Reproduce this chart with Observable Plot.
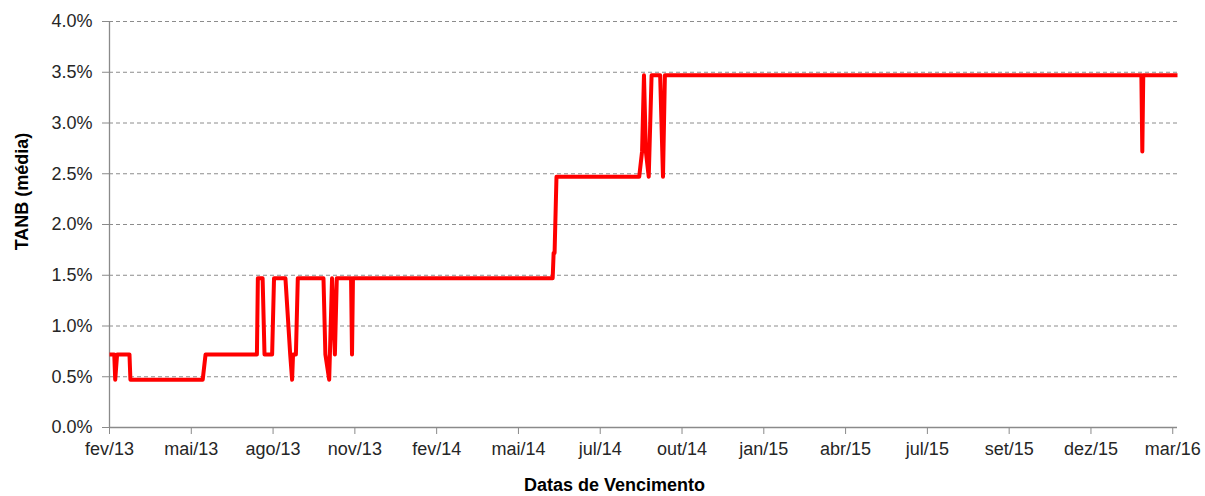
<!DOCTYPE html>
<html>
<head>
<meta charset="utf-8">
<script src="https://cdn.jsdelivr.net/npm/d3@7"></script>
<script src="https://cdn.jsdelivr.net/npm/@observablehq/plot@0.6"></script>
<style>
  html, body { margin: 0; padding: 0; background: #fff; }
</style>
</head>
<body>
<div id="chart"></div>
<script>
// Maturity dates (x) and average TANB in % (y)
const dates = [
  "2013-02-26","2013-03-03","2013-03-04","2013-03-06","2013-03-19","2013-03-20",
  "2013-06-04","2013-06-07","2013-07-31","2013-08-01","2013-08-06","2013-08-08",
  "2013-08-16","2013-08-18","2013-08-30","2013-09-04","2013-09-06","2013-09-07",
  "2013-09-10","2013-09-12","2013-10-09","2013-10-11","2013-10-15","2013-10-18",
  "2013-10-21","2013-10-23","2013-11-07","2013-11-08","2013-11-09",
  "2014-06-07","2014-06-08","2014-06-09","2014-06-11",
  "2014-09-06","2014-09-09","2014-09-11","2014-09-13","2014-09-16","2014-09-19",
  "2014-09-28","2014-10-01","2014-10-03",
  "2016-02-16","2016-02-17","2016-02-18","2016-03-25"
];
const tanb = [
  0.72,0.72,0.47,0.72,0.72,0.47,
  0.47,0.72,0.72,1.47,1.47,0.72,
  0.72,1.47,1.47,0.72,0.47,0.72,
  0.72,1.47,1.47,0.72,0.47,1.47,
  0.72,1.47,1.47,0.72,1.47,
  1.47,1.72,1.72,2.47,
  2.47,2.72,3.47,2.72,2.47,3.47,
  3.47,2.47,3.47,
  3.47,2.72,3.47,3.47
];

// Axis
const xDomain = ["2013-02-26", "2016-03-25"];
const xTickDates = [
  "2013-02-26","2013-05-23","2013-08-17","2013-11-11","2014-02-05","2014-05-02",
  "2014-07-27","2014-10-21","2015-01-15","2015-04-11","2015-07-06","2015-09-30",
  "2015-12-25","2016-03-20"
];
const xTickLabels = [
  "fev/13","mai/13","ago/13","nov/13","fev/14","mai/14","jul/14","out/14",
  "jan/15","abr/15","jul/15","set/15","dez/15","mar/16"
];
const yTicks = [0, 0.5, 1, 1.5, 2, 2.5, 3, 3.5, 4];
const yTitle = "TANB (média)";
const xTitle = "Datas de Vencimento";

const data = dates.map((d, i) => ({date: new Date(d), value: tanb[i]}));
const labelMap = new Map(xTickDates.map((d, i) => [+new Date(d), xTickLabels[i]]));

const axisColor = "#8a8a8a";
const textColor = "#262626";

const chart = Plot.plot({
  width: 1205,
  height: 496,
  marginLeft: 109,
  marginRight: 28,
  marginTop: 21,
  marginBottom: 69,
  style: {
    fontFamily: "'Liberation Sans', Arial, sans-serif",
    fontSize: "18px",
    color: textColor,
    background: "#fff",
    overflow: "visible"
  },
  x: {type: "utc", domain: xDomain.map(d => new Date(d))},
  y: {domain: [0, 4]},
  marks: [
    Plot.ruleY(yTicks.filter(d => d > 0), {stroke: "#8c8c8c", strokeDasharray: "4,3", strokeWidth: 1}),
    Plot.axisY({
      ticks: yTicks,
      tickFormat: d => d.toFixed(1) + "%",
      tickSize: 7,
      tickPadding: 10,
      stroke: axisColor,
      fill: textColor,
      fontSize: 18,
      label: null
    }),
    Plot.axisX({
      ticks: xTickDates.map(d => new Date(d)),
      tickFormat: d => labelMap.get(+d),
      tickSize: 7,
      tickPadding: 8,
      stroke: axisColor,
      fill: textColor,
      fontSize: 18,
      label: null
    }),
    Plot.ruleX([new Date(xDomain[0])], {stroke: axisColor, strokeWidth: 1.3}),
    Plot.ruleY([0], {stroke: axisColor, strokeWidth: 1.3}),
    Plot.line(data, {x: "date", y: "value", stroke: "#ff0000", strokeWidth: 4, strokeLinejoin: "round", strokeLinecap: "butt"}),
    Plot.text([yTitle], {
      frameAnchor: "left", dx: -87, dy: -33, rotate: -90, textAnchor: "middle",
      fontWeight: "bold", fontSize: 18, fill: "#000", text: d => d
    }),
    Plot.text([xTitle], {
      frameAnchor: "bottom", dx: -29, dy: 63,
      fontWeight: "bold", fontSize: 18, fill: "#000", text: d => d
    })
  ]
});
document.getElementById("chart").appendChild(chart);
</script>
</body>
</html>
